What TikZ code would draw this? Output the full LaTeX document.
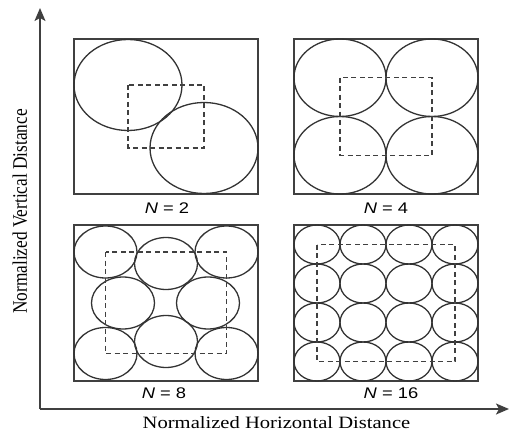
\documentclass[tikz,border=0pt]{standalone}
\usepackage{fontspec}
\setmainfont{Liberation Serif}
\newfontfamily\labfont{Liberation Sans}
\usetikzlibrary{arrows.meta}
\tikzset{
  frame/.style={draw=black!75, line width=1.4pt, minimum width=184pt, inner sep=0pt, outer sep=0pt},
  bub/.style={draw=black!80, line width=1.3pt},
  dsh/.style={draw=black!75, line width=1.2pt, dash pattern=on 5pt off 3.5pt},
  axis/.style={draw=black!65, line width=1.8pt, -{Stealth[length=13pt,width=11pt,inset=3pt]}, color=black!75},
  nlab/.style={font=\labfont\fontsize{15.4}{16}\selectfont, inner sep=0pt},
  axlab/.style={font=\fontsize{17.3}{18}\selectfont, inner sep=0pt}
}
\newcommand{\stretchtext}[1]{\scalebox{1.19}[1]{#1}}
\begin{document}
\begin{tikzpicture}[x=1pt,y=-1pt]
\useasboundingbox (0,0) rectangle (509,433);
% axes
\coordinate (origin) at (40,409);
\coordinate (ytip) at (40,8);
\coordinate (xtip) at (509,409);
\draw[axis] (origin) -- (ytip);
\draw[axis] (origin) -- (xtip);
\node[axlab] (xlab) at (276.5,423) {\stretchtext{Normalized Horizontal Distance}};
\node[axlab, rotate=90] (ylab) at (20,211.5) {\scalebox{1}[1.19]{Normalized Vertical Distance}};
% frames
\node[frame, minimum height=155pt] (b2) at (166,116.5) {};
\node[frame, minimum height=155pt] (b4) at (386,116.5) {};
\node[frame, minimum height=156pt] (b8) at (166,303) {};
\node[frame, minimum height=156pt] (b16) at (386,303) {};
% N = 2
\draw[bub] (128,85) ellipse [x radius=54pt, y radius=45.5pt];
\draw[bub] (204,148) ellipse [x radius=54pt, y radius=45.5pt];
\draw[dsh] (128,85) rectangle (204,148);
% N = 4
\foreach \cx in {340,432}{
  \foreach \cy in {77.75,155.25}{
    \draw[bub] (\cx,\cy) ellipse [x radius=46pt, y radius=38.75pt];
  }
}
\draw[dsh] (340,77.75) rectangle (432,155.25);
% N = 8
\foreach \p in {(105.5,252),(166,263.5),(226.5,252),(123,303),(208,303),(105.5,353.5),(166,341.5),(226.5,353.5)}{
  \draw[bub] \p ellipse [x radius=31.5pt, y radius=26pt];
}
\draw[dsh] (105.5,252) rectangle (226.5,353.5);
% N = 16
\foreach \cx in {317,363,409,455}{
  \foreach \cy in {244.5,283.5,322.5,361.5}{
    \draw[bub] (\cx,\cy) ellipse [x radius=23pt, y radius=19.5pt];
  }
}
\draw[dsh] (317,244.5) rectangle (455,361.5);
% labels
\node[nlab] (l2) at (167,208) {\stretchtext{\textit{N} = 2}};
\node[nlab] (l4) at (386,208) {\stretchtext{\textit{N} = 4}};
\node[nlab] (l8) at (164,393) {\stretchtext{\textit{N} = 8}};
\node[nlab] (l16) at (391,393) {\stretchtext{\textit{N} = 16}};
\end{tikzpicture}
\end{document}
